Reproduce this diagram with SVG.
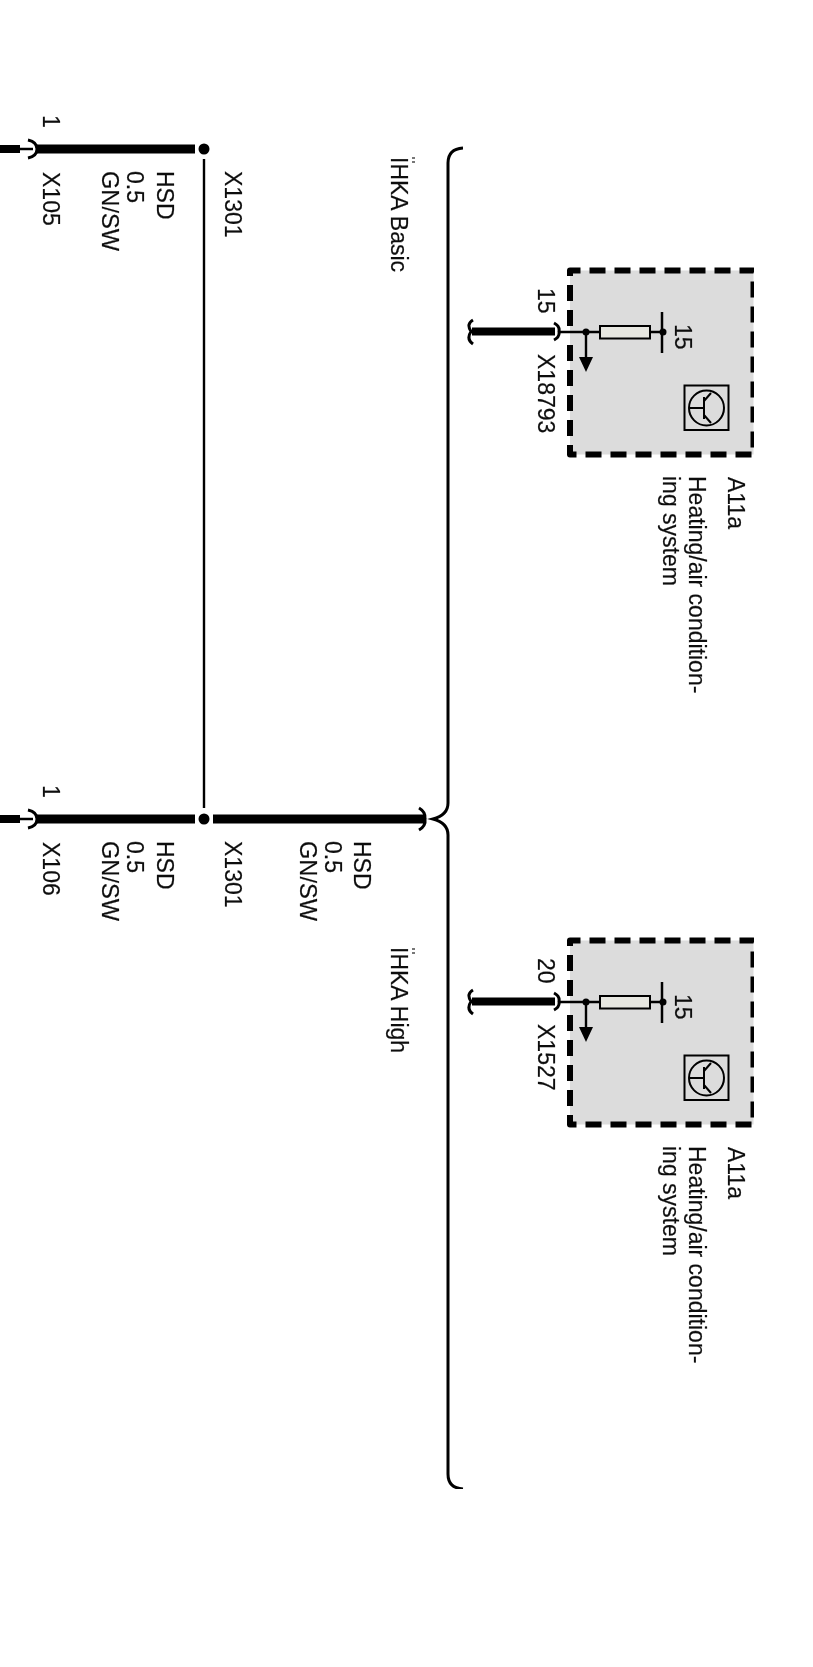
<svg xmlns="http://www.w3.org/2000/svg" width="813" height="1667" viewBox="0 0 813 1667">
<defs>
<style>
text{font-family:"Liberation Sans",Arial,sans-serif;font-size:23px;fill:#111;stroke:#111;stroke-width:.2}
.g{font-size:23.6px}
.w{fill:none;stroke:#000;stroke-width:9}
.t{fill:none;stroke:#000;stroke-width:2.4}
.c{fill:none;stroke:#000;stroke-width:3}
.d{fill:#000}
.m{fill:#777}
</style>
<filter id="soft" x="0" y="0" width="100%" height="100%"><feGaussianBlur stdDeviation="0.45"/></filter>
<g id="device">
<rect x="570" y="0.500" width="183.500" height="184" fill="#dcdcdc"/>
<path d="M570 56V0.500H753.500V184.500H570V68" fill="none" stroke="#000" stroke-width="6" stroke-dasharray="16 9" stroke-linejoin="round"/>
<path class="t" d="M559 62H600M650 62H663M586 62V88"/>
<rect x="600" y="56" width="50" height="12.500" fill="#e6e6e0" stroke="#000" stroke-width="2"/>
<path d="M662 42V83" fill="none" stroke="#000" stroke-width="2.500"/>
<circle class="d" cx="586" cy="62" r="3.500"/><circle class="d" cx="663" cy="62" r="3.500"/>
<path class="d" d="M579 87H593L586 102Z"/>
<rect x="684.500" y="115.500" width="44" height="44.500" fill="#dcdcdc" stroke="#000" stroke-width="2"/>
<circle cx="706.500" cy="138" r="17.500" fill="none" stroke="#000" stroke-width="2"/>
<path d="M690 138H703M704 127V149M704 131L711 123M704 145L711 153" fill="none" stroke="#000" stroke-width="2"/>
</g>
</defs>
<g filter="url(#soft)">
<g id="connectors">
<path class="w" d="M37 149H195M37 819H195M213 819H425"/>
<path d="M0 149H20M0 819H20" fill="none" stroke="#000" stroke-width="8"/>
<path class="t" d="M204 159V808M20 149H33M20 819H33"/>
<path class="c" d="M28 140Q37 142 37 149Q37 156 28 158M28 810Q37 812 37 819Q37 826 28 828"/>
<path class="c" d="M419 808Q426 812 425 819Q426 826 419 830"/>
<path class="c" d="M463 148Q448 149 448 163V803Q448 815 433 819Q448 823 448 835V1474Q448 1488 463 1489"/>
<path d="M472 331.500H555M472 1001.500H555" fill="none" stroke="#000" stroke-width="8"/>
<path class="c" d="M473 320Q466 324 471 331.500Q466 339 473 344M473 990Q466 994 471 1001.500Q466 1009 473 1014"/>
<path class="c" d="M554 323Q560 326 559 331.500Q560 337 554 340M554 993Q560 996 559 1001.500Q560 1007 554 1010"/>
<circle id="junction-top" class="d" cx="204" cy="149" r="5.500"/>
<circle id="junction-bottom" class="d" cx="204" cy="819" r="5.500"/>
</g>
<g id="device-1"><use href="#device" y="270"/></g>
<g id="device-2"><use href="#device" y="940"/></g>
<g id="labels-top">
<text transform="translate(43,115) rotate(90)">1</text>
<text transform="translate(43,172) rotate(90)">X105</text>
<text class="g" transform="translate(102,171) rotate(90)">GN/SW</text>
<text transform="translate(127,171) rotate(90)">0.5</text>
<text transform="translate(157,171) rotate(90)">HSD</text>
<text transform="translate(225,171) rotate(90)">X1301</text>
<text transform="translate(391,157) rotate(90)">IHKA Basic</text>
<rect class="m" x="412" y="157" width="3" height="2"/><rect class="m" x="412" y="161" width="3" height="2"/>
</g>
<g id="labels-bottom">
<text transform="translate(43,785) rotate(90)">1</text>
<text transform="translate(43,842) rotate(90)">X106</text>
<text class="g" transform="translate(102,841) rotate(90)">GN/SW</text>
<text transform="translate(127,841) rotate(90)">0.5</text>
<text transform="translate(157,841) rotate(90)">HSD</text>
<text transform="translate(225,841) rotate(90)">X1301</text>
<text class="g" transform="translate(300,841) rotate(90)">GN/SW</text>
<text transform="translate(325,841) rotate(90)">0.5</text>
<text transform="translate(354,841) rotate(90)">HSD</text>
<text transform="translate(391,947) rotate(90)">IHKA High</text>
<rect class="m" x="412" y="948" width="3" height="2"/><rect class="m" x="412" y="952" width="3" height="2"/>
</g>
<g id="labels-device-1">
<text transform="translate(538,288) rotate(90)">15</text>
<text transform="translate(538,354) rotate(90)">X18793</text>
<text transform="translate(675,324) rotate(90)">15</text>
<text transform="translate(728,477) rotate(90)">A11a</text>
<text transform="translate(689,476) rotate(90)">Heating/air condition-</text>
<text transform="translate(663,476) rotate(90)">ing system</text>
</g>
<g id="labels-device-2">
<text transform="translate(538,958) rotate(90)">20</text>
<text transform="translate(538,1024) rotate(90)">X1527</text>
<text transform="translate(675,994) rotate(90)">15</text>
<text transform="translate(728,1147) rotate(90)">A11a</text>
<text transform="translate(689,1146) rotate(90)">Heating/air condition-</text>
<text transform="translate(663,1146) rotate(90)">ing system</text>
</g>
</g>
</svg>
